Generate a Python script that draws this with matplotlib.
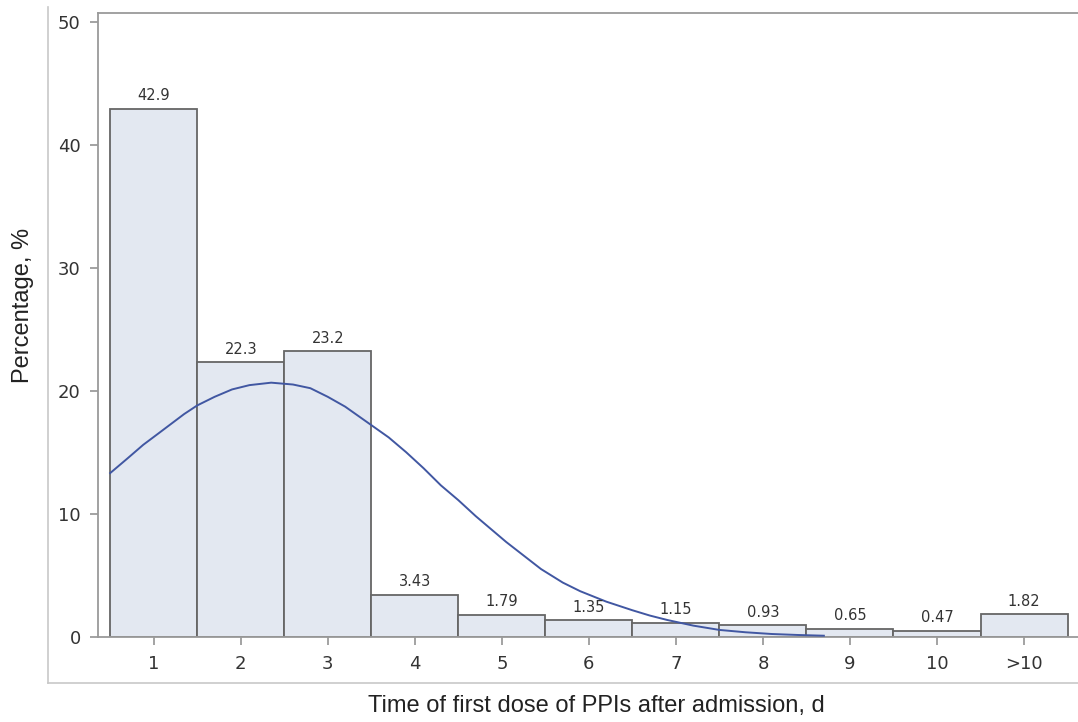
import matplotlib
matplotlib.use("Agg")
import matplotlib.pyplot as plt
from matplotlib.lines import Line2D

# bar data
days = ['1', '2', '3', '4', '5', '6', '7', '8', '9', '10', '>10']
percent = [42.9, 22.3, 23.2, 3.43, 1.79, 1.35, 1.15, 0.93, 0.65, 0.47, 1.82]
bar_labels = ['42.9', '22.3', '23.2', '3.43', '1.79', '1.35', '1.15', '0.93', '0.65', '0.47', '1.82']

# fitted curve, points (x in bin units, y in %)
curve_x = [0.5, 0.7, 0.88, 1.05, 1.2, 1.35, 1.5, 1.7, 1.9, 2.1, 2.35, 2.6, 2.8, 3.0,
           3.2, 3.5, 3.7, 3.9, 4.1, 4.3, 4.5, 4.7, 4.9, 5.05, 5.25, 5.45, 5.7,
           5.9, 6.2, 6.5, 6.7, 6.9, 7.2, 7.5, 7.8, 8.1, 8.4, 8.7]
curve_y = [13.3, 14.5, 15.6, 16.5, 17.3, 18.1, 18.8, 19.5, 20.1, 20.45, 20.65, 20.5,
           20.2, 19.5, 18.7, 17.2, 16.2, 15.0, 13.7, 12.3, 11.1, 9.8, 8.6, 7.7,
           6.6, 5.5, 4.4, 3.7, 2.85, 2.15, 1.72, 1.36, 0.9, 0.55, 0.36, 0.22, 0.14, 0.08]

fig = plt.figure(figsize=(10.78, 7.22), dpi=100)
ax = fig.add_axes([98 / 1078, 1 - 636.7 / 722, 1 - 98 / 1078, (636.7 - 13) / 722])

pos = list(range(1, len(days) + 1))
ax.bar(pos, percent, width=1.0, color='#e3e8f1', edgecolor='#666666', linewidth=1.3, zorder=2)
ax.plot(curve_x, curve_y, color='#4157a2', linewidth=1.4, zorder=3)

for x, v, t in zip(pos, percent, bar_labels):
    ax.annotate(t, (x, v), xytext=(0, 4), textcoords='offset points',
                ha='center', va='bottom', fontsize=10.5, color='#333333',
                family='DejaVu Sans')

ax.set_xlim(0.36, 11.62)
ax.set_ylim(0, 50.7)
ax.set_xticks(pos)
ax.set_xticklabels(days)
ax.set_yticks([0, 10, 20, 30, 40, 50])

for s in ['left', 'bottom', 'top']:
    ax.spines[s].set_color('#9a9a9a')
    ax.spines[s].set_linewidth(1.3)
ax.spines['right'].set_visible(False)
ax.tick_params(axis='both', length=6, width=1.1, color='#8a8a8a', labelsize=13,
               labelcolor='#333333')
ax.tick_params(axis='x', pad=7)
ax.tick_params(axis='y', pad=6.5)
for lab in ax.get_xticklabels() + ax.get_yticklabels():
    lab.set_family('DejaVu Sans')

# outer frame like the SAS graph border
fig.add_artist(Line2D([47.7 / 1078, 47.7 / 1078], [1 - 7 / 722, 1 - 683 / 722],
                      color='#c8c8c8', linewidth=1.2))
fig.add_artist(Line2D([47.7 / 1078, 1.0], [1 - 683 / 722, 1 - 683 / 722],
                      color='#c8c8c8', linewidth=1.2))

fig.text(596.5 / 1078, 1 - 706 / 722, 'Time of first dose of PPIs after admission, d',
         ha='center', va='center', fontsize=17, family='Liberation Sans', color='#222222')
fig.text(23 / 1078, 1 - 305.5 / 722, 'Percentage, %', ha='center', va='center',
         rotation=90, fontsize=17, family='Liberation Sans', color='#222222')

fig.savefig('out.png', dpi=100)
